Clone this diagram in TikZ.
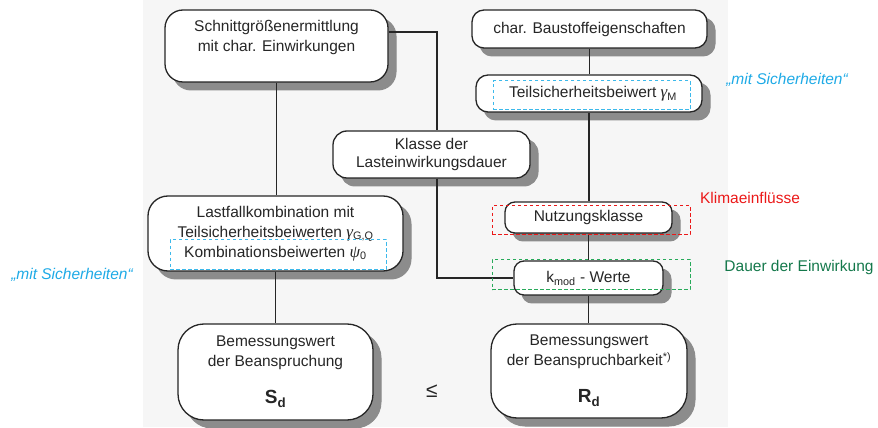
\documentclass[tikz,border=0pt]{standalone}
\usepackage{fontspec}
\setmainfont{Liberation Sans}
\newfontfamily\greekfont{Liberation Serif}
\definecolor{cyanA}{RGB}{30,170,230}
\definecolor{cyanB}{RGB}{60,185,235}
\definecolor{redA}{RGB}{235,25,25}
\definecolor{greenA}{RGB}{20,120,75}
\definecolor{greenB}{RGB}{40,170,90}
\definecolor{bgc}{RGB}{246,246,246}
\newcommand{\gk}[1]{{\greekfont\itshape\fontsize{17}{20}\selectfont #1}}
\tikzset{
  box/.style={draw=black!85, line width=1.3pt, fill=white, inner sep=0pt},
  shadowbox/.style={fill=black!45, draw=black!45, line width=1pt, inner sep=0pt},
  txt/.style={align=center, inner sep=0pt, font=\fontsize{15.5}{20}\selectfont, text=black!85},
  conn/.style={draw=black!85, line width=1.1pt},
  dbox/.style={dashed, line width=1pt, dash pattern=on 3.5pt off 2.5pt, inner sep=0pt},
  note/.style={inner sep=0pt, font=\fontsize{15.5}{19}\selectfont}
}
\begin{document}
\begin{tikzpicture}[x=1pt,y=-1pt]
\node (bgr) [fill=bgc, inner sep=0pt, minimum width=585pt, minimum height=427pt, anchor=north west] at (143,0) {};
\useasboundingbox (0,0) rectangle (878,427);

% shadows
\node (s1) [shadowbox, rounded corners=18pt, minimum width=223pt, minimum height=72pt] at (284.5,54) {};
\node (s2) [shadowbox, rounded corners=12pt, minimum width=235pt, minimum height=38pt] at (597.5,37) {};
\node (s3) [shadowbox, rounded corners=12pt, minimum width=226pt, minimum height=37pt] at (597,101.5) {};
\node (s4) [shadowbox, rounded corners=14pt, minimum width=197pt, minimum height=47pt] at (439.5,162.5) {};
\node (s5) [shadowbox, rounded corners=20pt, minimum width=255pt, minimum height=75pt] at (283.5,241.5) {};
\node (s6) [shadowbox, rounded corners=10pt, minimum width=167pt, minimum height=31pt] at (596.5,225.5) {};
\node (s7) [shadowbox, rounded corners=10pt, minimum width=149pt, minimum height=34pt] at (596.5,286) {};
\node (s8) [shadowbox, rounded corners=26pt, minimum width=195pt, minimum height=96pt] at (283.5,380) {};
\node (s9) [shadowbox, rounded corners=26pt, minimum width=196pt, minimum height=94pt] at (597,379) {};

% boxes
\node (b1) [box, rounded corners=18pt, minimum width=223pt, minimum height=72pt] at (276.5,46) {};
\node (b1t) [txt, anchor=north] at ([yshift=-11pt]b1.north) {Schnittgrößenermittlung\\mit char. Einwirkungen};
\node (b2) [box, rounded corners=12pt, minimum width=235pt, minimum height=38pt, txt] at (589.5,29) {char. Baustoffeigenschaften};
\node (b3) [box, rounded corners=12pt, minimum width=226pt, minimum height=37pt, txt] at (589,93.5) {};
\node (b3t) [txt] at (593,94) {Teilsicherheitsbeiwert \gk{γ}\textsubscript{M}};
\node (b4) [box, rounded corners=14pt, minimum width=197pt, minimum height=47pt, txt, font=\fontsize{15.5}{18}\selectfont] at (431.5,154.5) {Klasse der\\Lasteinwirkungsdauer};
\node (b5) [box, rounded corners=20pt, minimum width=255pt, minimum height=75pt, txt] at (275.5,233.5) {Lastfallkombination mit\\Teilsicherheitsbeiwerten \gk{γ}\textsubscript{G,Q}\\Kombinationsbeiwerten \gk{ψ}\textsubscript{0}};
\node (b6) [box, rounded corners=10pt, minimum width=167pt, minimum height=31pt, txt] at (588.5,217.5) {Nutzungsklasse};
\node (b7) [box, rounded corners=10pt, minimum width=149pt, minimum height=34pt, txt] at (588.5,278) {k\textsubscript{mod} - Werte};
\node (b8) [box, rounded corners=26pt, minimum width=195pt, minimum height=96pt, txt] at (275.5,372) {Bemessungswert\\der Beanspruchung\\[17pt]{\fontsize{19}{20}\selectfont\bfseries S\textsubscript{d}}};
\node (b9) [box, rounded corners=26pt, minimum width=196pt, minimum height=94pt, txt] at (589,371) {Bemessungswert\\der Beanspruchbarkeit\textsuperscript{*)}\\[17pt]{\fontsize{19}{20}\selectfont\bfseries R\textsubscript{d}}};
\node (le) [txt, font=\fontsize{21}{22}\selectfont] at (432,391) {≤};

% connectors
\draw[conn] (b1.south) -- (b1.south |- b5.north);
\draw[conn] ([yshift=14pt]b1.east) -| ([xshift=5.5pt]b4.north);
\draw[conn] ([xshift=5.5pt]b4.south) |- (b7.west);
\draw[conn] (b2.south) -- (b2.south |- b3.north);
\draw[conn] (b3.south) -- (b3.south |- b6.north);
\draw[conn] (b6.south) -- (b6.south |- b7.north);
\draw[conn] (b7.south) -- (b7.south |- b9.north);
\draw[conn] (b5.south) -- (b5.south |- b8.north);

% dashed highlight boxes
\node (d3) [dbox, draw=cyanB, minimum width=197pt, minimum height=29pt] at (591.5,95.5) {};
\node (d5) [dbox, draw=cyanB, minimum width=216pt, minimum height=30pt] at (278,255) {};
\node (d6) [dbox, draw=redA, minimum width=198pt, minimum height=29pt] at (591,220.5) {};
\node (d7) [dbox, draw=greenB, minimum width=198pt, minimum height=30pt] at (591,275) {};

% annotations
\node (n1) [note, text=cyanA, font=\fontsize{15.5}{19}\selectfont\itshape] at (787,80) {„mit Sicherheiten“};
\node (n2) [note, text=cyanA, font=\fontsize{15.5}{19}\selectfont\itshape] at (72,275) {„mit Sicherheiten“};
\node (n3) [note, text=redA] at (750,198) {Klimaeinflüsse};
\node (n4) [note, text=greenA] at (799,267) {Dauer der Einwirkung};
\end{tikzpicture}
\end{document}
